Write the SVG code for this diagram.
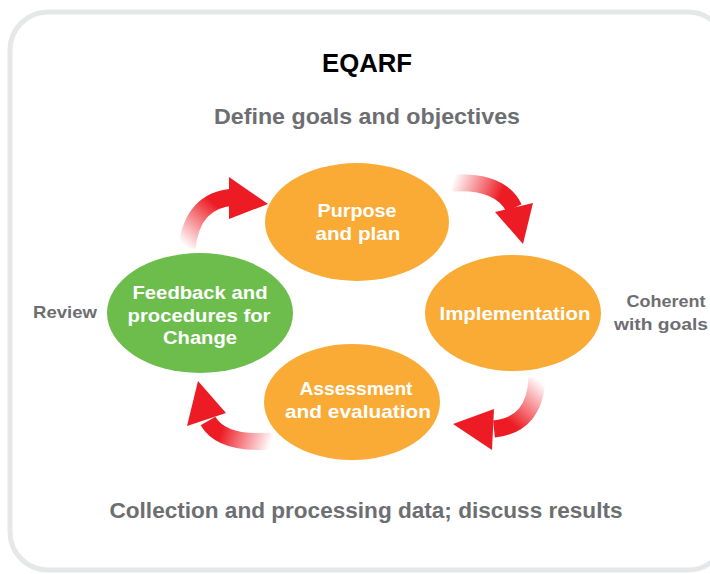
<svg xmlns="http://www.w3.org/2000/svg" width="710" height="574" viewBox="0 0 710 574">
<style>
.t{font-family:"Liberation Sans",Arial,sans-serif;font-weight:bold;text-anchor:middle}
.g{fill:#6d6e71}
.w{fill:#ffffff;font-size:19px}
.o{fill:#f9ab36}
.gr{fill:#6cbd4c}
.head{fill:#ed1c24}
.shaft{fill:none;stroke-width:17}
</style>
<defs>
<linearGradient id="a1" gradientUnits="userSpaceOnUse" x1="187" y1="248" x2="232" y2="196"><stop offset="0" stop-color="#ed1c24" stop-opacity="0"/><stop offset="0.75" stop-color="#ed1c24"/></linearGradient>
<linearGradient id="a2" gradientUnits="userSpaceOnUse" x1="452" y1="183" x2="514" y2="207"><stop offset="0" stop-color="#ed1c24" stop-opacity="0"/><stop offset="0.75" stop-color="#ed1c24"/></linearGradient>
<linearGradient id="a3" gradientUnits="userSpaceOnUse" x1="537" y1="378" x2="492" y2="429"><stop offset="0" stop-color="#ed1c24" stop-opacity="0"/><stop offset="0.75" stop-color="#ed1c24"/></linearGradient>
<linearGradient id="a4" gradientUnits="userSpaceOnUse" x1="272" y1="441" x2="207" y2="420"><stop offset="0" stop-color="#ed1c24" stop-opacity="0"/><stop offset="0.75" stop-color="#ed1c24"/></linearGradient>
</defs>
<rect x="10" y="12" width="716" height="558" rx="38" fill="#ffffff" stroke="#e6e7e8" stroke-width="5"/>
<text class="t" x="367" y="72" font-size="26" fill="#000" textLength="90" lengthAdjust="spacingAndGlyphs">EQARF</text>
<text class="t g" x="367" y="124" font-size="22" textLength="306" lengthAdjust="spacingAndGlyphs">Define goals and objectives</text>
<text class="t g" x="366" y="518" font-size="22" textLength="513" lengthAdjust="spacingAndGlyphs">Collection and processing data; discuss results</text>
<text class="t g" x="65" y="318" font-size="17" textLength="64" lengthAdjust="spacingAndGlyphs">Review</text>
<text class="t g" x="666" y="307" font-size="17" textLength="79" lengthAdjust="spacingAndGlyphs">Coherent</text>
<text class="t g" x="661" y="330" font-size="17" textLength="94" lengthAdjust="spacingAndGlyphs">with goals</text>
<g id="connectors">
<path class="shaft" stroke="url(#a1)" d="M187 248 Q192 200 234 197"/>
<polygon class="head" points="229,177 268,204 229,219"/>
<path class="shaft" stroke="url(#a2)" d="M452 183 Q500 180 514 208"/>
<polygon class="head" points="495,212 523,244 533,203"/>
<path class="shaft" stroke="url(#a3)" d="M537 378 Q535 425 494 429"/>
<polygon class="head" points="494,409 453,424 492,450"/>
<path class="shaft" stroke="url(#a4)" d="M272 441 Q222 445 208 421"/>
<polygon class="head" points="187,426 198,381 226,413"/>
</g>
<g id="purpose">
<ellipse class="o" cx="357" cy="222" rx="92" ry="59"/>
<text class="t w" x="357" y="217" textLength="79" lengthAdjust="spacingAndGlyphs">Purpose</text>
<text class="t w" x="358" y="240" textLength="85" lengthAdjust="spacingAndGlyphs">and plan</text>
</g>
<g id="implementation">
<ellipse class="o" cx="513" cy="313" rx="88" ry="58"/>
<text class="t w" x="515" y="320" textLength="151" lengthAdjust="spacingAndGlyphs">Implementation</text>
</g>
<g id="assessment">
<ellipse class="o" cx="352" cy="402" rx="88" ry="58"/>
<text class="t w" x="356" y="395" textLength="113" lengthAdjust="spacingAndGlyphs">Assessment</text>
<text class="t w" x="358" y="418" textLength="146" lengthAdjust="spacingAndGlyphs">and evaluation</text>
</g>
<g id="feedback">
<ellipse class="gr" cx="200" cy="313" rx="93" ry="60"/>
<text class="t w" x="200" y="299" textLength="135" lengthAdjust="spacingAndGlyphs">Feedback and</text>
<text class="t w" x="199" y="322" textLength="143" lengthAdjust="spacingAndGlyphs">procedures for</text>
<text class="t w" x="200" y="344" textLength="74" lengthAdjust="spacingAndGlyphs">Change</text>
</g>
</svg>
